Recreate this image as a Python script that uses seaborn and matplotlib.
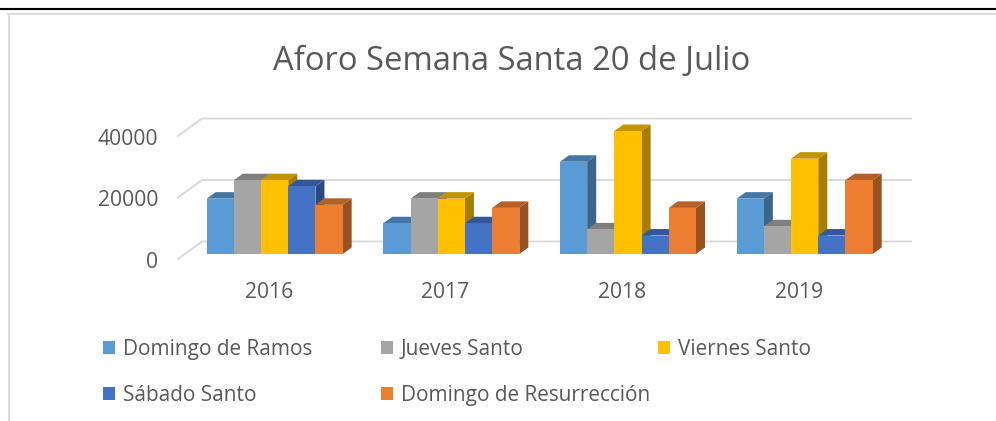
import matplotlib
matplotlib.use("Agg")
import matplotlib.pyplot as plt
import seaborn as sns
import pandas as pd
from matplotlib.lines import Line2D
from matplotlib.patches import Polygon
from matplotlib.transforms import Affine2D, IdentityTransform
from matplotlib.colors import to_rgb

years = ["2016", "2017", "2018", "2019"]
series = ["Domingo de Ramos", "Jueves Santo", "Viernes Santo", "Sábado Santo", "Domingo de Resurrección"]
domingo_ramos = [18000, 10000, 30000, 18000]
jueves_santo = [24000, 18000, 8000, 9000]
viernes_santo = [24000, 18000, 40000, 31000]
sabado_santo = [22000, 10000, 6000, 6000]
domingo_resurreccion = [16000, 15000, 15000, 24000]
colors = ["#5B9BD5", "#A5A5A5", "#FFC000", "#4472C4", "#ED7D31"]
y_ticks = [0, 20000, 40000]
title = "Aforo Semana Santa 20 de Julio"

W, H = 996, 421
FONT = "Open Sans"
TXT = "#595959"
plt.rcParams["font.family"] = [FONT, "DejaVu Sans"]

values = [domingo_ramos, jueves_santo, viernes_santo, sabado_santo, domingo_resurreccion]
df = pd.DataFrame(
    [{"year": y, "serie": s, "value": v[i]} for s, v in zip(series, values) for i, y in enumerate(years)]
)

fig = plt.figure(figsize=(W / 100, H / 100), dpi=100, facecolor="white")
px_left, px_right, px_top, px_base = 186.3, 893.0, 131.0, 254.0
ax = fig.add_axes([px_left / W, 1 - px_base / H, (px_right - px_left) / W, (px_base - px_top) / H])
ax.patch.set_alpha(0)

sns.barplot(data=df, x="year", y="value", hue="serie", hue_order=series, order=years,
            palette=colors, saturation=1, width=0.77, gap=0, ax=ax, legend=True)
ax.set_xlim(-0.5, 3.5)
ax.set_ylim(0, 40000)
ax.set_xlabel("")
ax.set_ylabel("")
for s in ax.spines.values():
    s.set_visible(False)

# walls and gridlines of the 3D box
GRID = "#D9D9D9"
for v in y_ticks:
    p0 = ax.get_yaxis_transform().transform((0, v)) + (-8.3, -5)
    p1 = p0 + (24, 17.5)
    p2 = ax.get_yaxis_transform().transform((1, v)) + (18, 12.5)
    ax.add_line(Line2D([p0[0], p1[0], p2[0]], [p0[1], p1[1], p2[1]], transform=IdentityTransform(),
                       color=GRID, lw=1.4, clip_on=False, zorder=1))

# 3D side and top faces derived from each seaborn bar
DX, DY = 9.0, 6.5
def shade(c, f):
    return tuple(x * f for x in to_rgb(c))
for i, (cont, col) in enumerate(zip(ax.containers, colors)):
    for bar in cont:
        (x0, y0), (x1, y1) = ax.transData.transform(
            [(bar.get_x(), 0), (bar.get_x() + bar.get_width(), bar.get_height())])
        side = [(x1, y0), (x1 + DX, y0 + DY), (x1 + DX, y1 + DY), (x1, y1)]
        top = [(x0, y1), (x1, y1), (x1 + DX, y1 + DY), (x0 + DX, y1 + DY)]
        z = 3 + i
        ax.add_patch(Polygon(side, transform=IdentityTransform(), fc=shade(col, 0.65), ec="none",
                             clip_on=False, zorder=z))
        ax.add_patch(Polygon(top, transform=IdentityTransform(), fc=shade(col, 0.77), ec="none",
                             clip_on=False, zorder=z + 0.1))
        bar.set_zorder(z + 0.2)
        bar.set_clip_on(False)
        bar.set_edgecolor("none")

# ticks
ax.set_yticks(y_ticks, [str(v) for v in y_ticks])
ax.tick_params(axis="y", length=0, pad=20, labelsize=15.2, labelcolor=TXT)
ax.tick_params(axis="x", length=0, pad=20.5, labelsize=15.2, labelcolor=TXT)
for lab in ax.get_yticklabels():
    lab.set_transform(lab.get_transform() + Affine2D().translate(0, -6))
for lab in ax.get_xticklabels():
    lab.set_transform(lab.get_transform() + Affine2D().translate(-6, 0))

fig.text(511.5 / W, 1 - 62 / H, title, ha="center", va="center", fontsize=23.55, color=TXT)

# legend, one block per column
handles, labels = ax.get_legend_handles_labels()
ax.get_legend().remove()
for idxs, xpx in zip([[0, 3], [1, 4], [2]], [103, 381, 658]):
    leg = fig.legend([handles[j] for j in idxs], [labels[j] for j in idxs], loc="upper left",
                     bbox_to_anchor=(xpx / W, 1 - 339 / H), bbox_transform=fig.transFigure,
                     frameon=False, fontsize=14.95, labelcolor=TXT, handlelength=0.6, handleheight=0.6,
                     handletextpad=0.35, labelspacing=1.18, borderpad=0, borderaxespad=0)

# page rule and chart frame
def rule(xs, ys, color, lw):
    fig.add_artist(Line2D([x / W for x in xs], [1 - y / H for y in ys], color=color, lw=lw))
rule([0, 996], [9, 9], "black", 1.5)
rule([9, 9], [14, 421], "#DDDDDD", 1.4)
rule([8, 996], [14, 14], "#DDDDDD", 1.4)

fig.savefig("out.png", dpi=100)
